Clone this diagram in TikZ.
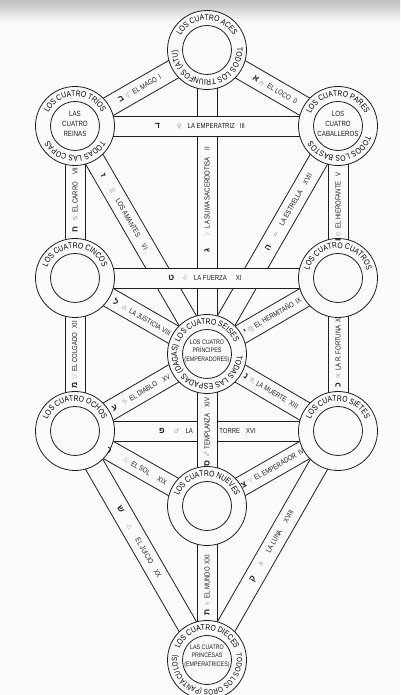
\documentclass[tikz,border=0pt]{standalone}
\usepackage{fontspec}
\setmainfont{Liberation Sans}[FakeStretch=0.82]
\newfontfamily\heb{Liberation Sans}[Script=Hebrew]
\newfontfamily\astro{DejaVu Sans}
\usetikzlibrary{calc,backgrounds,decorations.text}

\definecolor{paper}{RGB}{251,251,249}
\definecolor{ink}{RGB}{30,30,30}
\definecolor{faint}{RGB}{165,165,165}

\newcommand{\labfont}{\fontsize{7.3}{7.3}\selectfont}
\newcommand{\ringfont}{\fontsize{8.2}{8.2}\selectfont}
\newcommand{\smallring}{\fontsize{7.6}{7.6}\selectfont}
\newcommand{\crownfont}{\fontsize{7.5}{10}\selectfont}
\newcommand{\smallcrown}{\fontsize{6.5}{8.5}\selectfont}
\newcommand{\letra}[1]{{\heb\bfseries\fontsize{8.5}{8.5}\selectfont#1}}
\newcommand{\planet}[1]{{\color{faint}\astro\fontsize{6.5}{6.5}\selectfont#1}}
\newcommand{\airsym}{\ooalign{△\cr\hidewidth\rule[0.25em]{0.8em}{0.4pt}\hidewidth\cr}}
\newcommand{\tarot}[7]{\letra{#4}\hspace{#1pt}\planet{#5}\hspace{#2pt}#6\hspace{#3pt}#7}

% a path between two sephiroth: a white strip with two rails
\newcommand{\band}[2]{%
  \fill[paper] ($(#1.center)!10pt!90:(#2.center)$) -- ($(#2.center)!10pt!-90:(#1.center)$)
    -- ($(#2.center)!10pt!90:(#1.center)$) -- ($(#1.center)!10pt!-90:(#2.center)$) -- cycle;
  \draw[rail] ($(#1.center)!10pt!90:(#2.center)$) -- ($(#2.center)!10pt!-90:(#1.center)$)
    ($(#2.center)!10pt!90:(#1.center)$) -- ($(#1.center)!10pt!-90:(#2.center)$);}

% text round a ring, clockwise, centred on an angle
\newcommand{\ringtext}[4]{%
  \path[decorate,decoration={text along path,text align=center,text={|#3|#4}}]
    ($(#1.center)+({#2+150}:29.8)$) arc[start angle={#2+150},end angle={#2-150},radius=29.8];}

\begin{document}
\begin{tikzpicture}
    [
    x=1pt,y=1pt,
    ring/.style={circle,draw=ink,fill=paper,line width=0.8pt,minimum size=79pt,inner sep=0pt},
    hub/.style={circle,draw=ink,line width=0.8pt,minimum size=49pt,inner sep=0pt},
    crown/.style={align=center,font=\crownfont,text=ink,inner sep=0pt},
    lab/.style={font=\labfont,text=ink,inner sep=0pt},
    rail/.style={ink,line width=0.8pt}
    ]
    \useasboundingbox (0,0) rectangle (400,695);
    \node (aces) at (207,645) [ring] {};
    \node (pares) at (338,569) [ring] {};
    \node (trios) at (75,569) [ring] {};
    \node (cuatros) at (338,417) [ring] {};
    \node (cincos) at (75,417) [ring] {};
    \node (seises) at (207,341) [ring] {};
    \node (sietes) at (338,264) [ring] {};
    \node (ochos) at (75,264) [ring] {};
    \node (nueves) at (207,189) [ring] {};
    \node (dieces) at (207,35) [ring] {};
    \foreach \s in {aces,pares,trios,cuatros,cincos,seises,sietes,ochos,nueves,dieces}
      \node (\s-in) at (\s) [hub] {};

    \begin{scope}[on background layer]
      \fill[paper] (0,0) rectangle (400,695);
      \shade[top color=black!25,bottom color=paper] (0,673) rectangle (400,695);
      % the ones that are crossed
      \band{aces}{seises}
      \band{trios}{seises}
      \band{pares}{seises}
      \band{ochos}{sietes}
      \band{aces}{pares}
      \band{aces}{trios}
      \band{trios}{pares}
      \band{pares}{cuatros}
      \band{trios}{cincos}
      \band{cincos}{cuatros}
      \band{cuatros}{seises}
      \band{cincos}{seises}
      \band{cuatros}{sietes}
      \band{cincos}{ochos}
      \band{seises}{sietes}
      \band{seises}{ochos}
      \band{seises}{nueves}
      \band{ochos}{nueves}
      \band{sietes}{nueves}
      \band{ochos}{dieces}
      \band{sietes}{dieces}
      \band{nueves}{dieces}
    \end{scope}

    % the trumps
    \path (aces.center) -- node (loco) [lab,sloped,pos=.52] {\tarot{2}{4}{4}{א}{\airsym}{EL LOCO}{0}} (pares.center);
    \path (trios.center) -- node (mago) [lab,sloped,pos=.49] {\tarot{3}{4}{3}{ב}{☿}{EL MAGO}{I}} (aces.center);
    \path (seises.center) -- node (sacerdotisa) [lab,rotate=90,pos=.507] {\tarot{10}{5}{7}{ג}{☽}{LA SUMA SACERDOTISA}{II}} (aces.center);
    \path (trios.center) -- node (emperatriz) [lab,pos=.475] {\tarot{17}{6}{5}{ד}{♀}{LA EMPERATRIZ}{III}} (pares.center);
    \path (seises.center) -- node (estrella) [lab,sloped,pos=.622] {\tarot{9}{8}{8}{ה}{♒}{LA ESTRELLA}{XVII}} (pares.center);
    \path (cuatros.center) -- node (hierofante) [lab,rotate=90,pos=.467] {\tarot{2}{3}{5}{ו}{♉}{EL HIEROFANTE}{V}} (pares.center);
    \path (trios.center) -- node (amantes) [lab,sloped,pos=.375] {\tarot{14}{7}{9}{ז}{♊}{LOS AMANTES}{VI}} (seises.center);
    \path (cincos.center) -- node (carro) [lab,rotate=90,pos=.513] {\tarot{5}{3}{7}{ח}{♋}{EL CARRO}{VII}} (trios.center);
    \path (cincos.center) -- node (fuerza) [lab,pos=.494] {\tarot{8}{6}{9}{ט}{♌}{LA FUERZA}{XI}} (cuatros.center);
    \path (seises.center) -- node (hermitano) [lab,sloped,pos=.5] {\tarot{2}{2}{3}{י}{♍}{EL HERMITAÑO}{IX}} (cuatros.center);
    \path (sietes.center) -- node (fortuna) [lab,rotate=90,pos=.51] {\tarot{3}{3}{3}{כ}{♃}{LA R. FORTUNA}{X}} (cuatros.center);
    \path (cincos.center) -- node (justicia) [lab,sloped,pos=.51] {\tarot{5}{3}{2}{ל}{♎}{LA JUSTICIA}{VIII}} (seises.center);
    \path (ochos.center) -- node (colgado) [lab,rotate=90,pos=.497] {\tarot{3}{3}{4}{מ}{▽}{EL COLGADO}{XII}} (cincos.center);
    \path (seises.center) -- node (muerte) [lab,sloped,pos=.487] {\tarot{3}{2}{4}{נ}{♏}{LA MUERTE}{XIII}} (sietes.center);
    \path (nueves.center) -- node (templanza) [lab,rotate=90,pos=.487] {\tarot{3}{2}{6}{ס}{♐}{TEMPLANZA}{XIV}} (seises.center);
    \path (ochos.center) -- node (diablo) [lab,sloped,pos=.5] {\tarot{6}{3}{7}{ע}{♑}{EL DIABLO}{XV}} (seises.center);
    \path (ochos.center) -- node (torre-a) [lab,pos=.449,anchor=east] {\letra{פ}\hspace{9pt}\planet{♂}\hspace{6pt}LA}
      node (torre-b) [lab,pos=.548,anchor=west] {TORRE\hspace{6pt}XVI} (sietes.center);
    \path (dieces.center) -- node (luna) [lab,sloped,pos=.497] {\tarot{11}{11}{10}{ק}{♓}{LA LUNA}{XVIII}} (sietes.center);
    \path (nueves.center) -- node (emperador) [lab,sloped,pos=.5] {\tarot{2}{2}{3}{צ}{♈}{EL EMPERADOR}{IV}} (sietes.center);
    \path (ochos.center) -- node (sol) [lab,sloped,pos=.466] {\tarot{15}{3}{9}{ר}{☉}{EL SOL}{XIX}} (nueves.center);
    \path (ochos.center) -- node (juicio) [lab,sloped,pos=.485] {\tarot{14}{11}{8}{ש}{△}{EL JUICIO}{XX}} (dieces.center);
    \path (dieces.center) -- node (mundo) [lab,rotate=90,pos=.487] {\tarot{3}{2}{3}{ת}{♄}{EL MUNDO}{XXI}} (nueves.center);

    % the rings
    \ringtext{aces}{90}{\ringfont}{LOS CUATRO ACES}
    \ringtext{aces}{-87}{\ringfont}{TODOS LOS TRIUNFOS (ATU)}
    \ringtext{pares}{90}{\ringfont}{LOS CUATRO PARES}
    \ringtext{pares}{-85}{\ringfont}{TODOS LOS BASTOS}
    \ringtext{trios}{90}{\ringfont}{LOS CUATRO TRÍOS}
    \ringtext{trios}{-90}{\ringfont}{TODAS LAS COPAS}
    \ringtext{cuatros}{90}{\ringfont}{LOS CUATRO CUATROS}
    \ringtext{cincos}{90}{\ringfont}{LOS CUATRO CINCOS}
    \ringtext{seises}{90}{\ringfont}{LOS CUATRO SEISES}
    \ringtext{seises}{-100}{\ringfont}{TODAS LAS ESPADAS (DAGAS)}
    \ringtext{sietes}{90}{\ringfont}{LOS CUATRO SIETES}
    \ringtext{ochos}{90}{\ringfont}{LOS CUATRO OCHOS}
    \ringtext{nueves}{90}{\ringfont}{LOS CUATRO NUEVES}
    \ringtext{dieces}{90}{\ringfont}{LOS CUATRO DIECES}
    \ringtext{dieces}{-88}{\smallring}{TODOS LOS OROS (PANTÁCULOS)}

    \node (reinas) at ($(trios)+(0,2)$) [crown] {LAS\\CUATRO\\REINAS};
    \node (caballeros) at ($(pares)+(0,2)$) [crown] {LOS\\CUATRO\\CABALLEROS};
    \node (principes) at ($(seises)+(0,3)$) [crown,font=\smallcrown] {LOS CUATRO\\PRÍNCIPES\\(EMPERADORES)};
    \node (princesas) at ($(dieces)+(0,4)$) [crown,font=\smallcrown] {LAS CUATRO\\PRINCESAS\\(EMPERATRICES)};
  \end{tikzpicture}
\end{document}
